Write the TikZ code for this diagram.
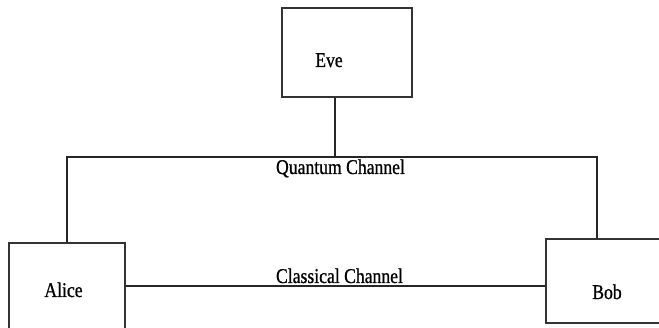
\documentclass[tikz,border=0pt]{standalone}
\usepackage{fontspec}
\newfontfamily\narrowserif[FakeStretch=0.84,FakeBold=0.8]{Liberation Serif}
\begin{document}
\begin{tikzpicture}[x=1pt,y=-1pt,
  party/.style={draw=black!80, line width=1.1pt, rectangle, inner sep=0pt},
  link/.style={draw=black!85, line width=1.1pt},
  lbl/.style={anchor=base, inner sep=0pt, text=black,
    font=\narrowserif\fontsize{21}{25}\selectfont}]
\useasboundingbox (0,0) rectangle (659,328);

% parties
\node[party, minimum width=130pt, minimum height=89pt] (eve)   at (347,52.5) {};
\node[party, minimum width=116pt, minimum height=86pt] (alice) at (67,286)   {};
\node[party, minimum width=118pt, minimum height=84pt] (bob)   at (605,281)  {};

\node[lbl] (evetxt)   at (329,67)  {Eve};
\node[lbl] (alicetxt) at (63.5,297) {Alice};
\node[lbl] (bobtxt)   at (607,299) {Bob};

% junction points of the channels
\coordinate (qe) at (335,157);
\coordinate (qa) at (67,157);
\coordinate (qb) at (597,157);
\coordinate (cc) at (340,286);

% quantum channel, tapped by Eve
\draw[link] (alice.north -| qa) -- (qa) -- (qb) -- (bob.north -| qb);
\draw[link] (eve.south -| qe) -- (qe);
\node[lbl] (qlbl) at (340.5,174) {Quantum Channel};

% classical channel
\draw[link] (alice.east |- cc) -- (bob.west |- cc);
\node[lbl] (clbl) at (339.5,283) {Classical Channel};
\end{tikzpicture}
\end{document}
